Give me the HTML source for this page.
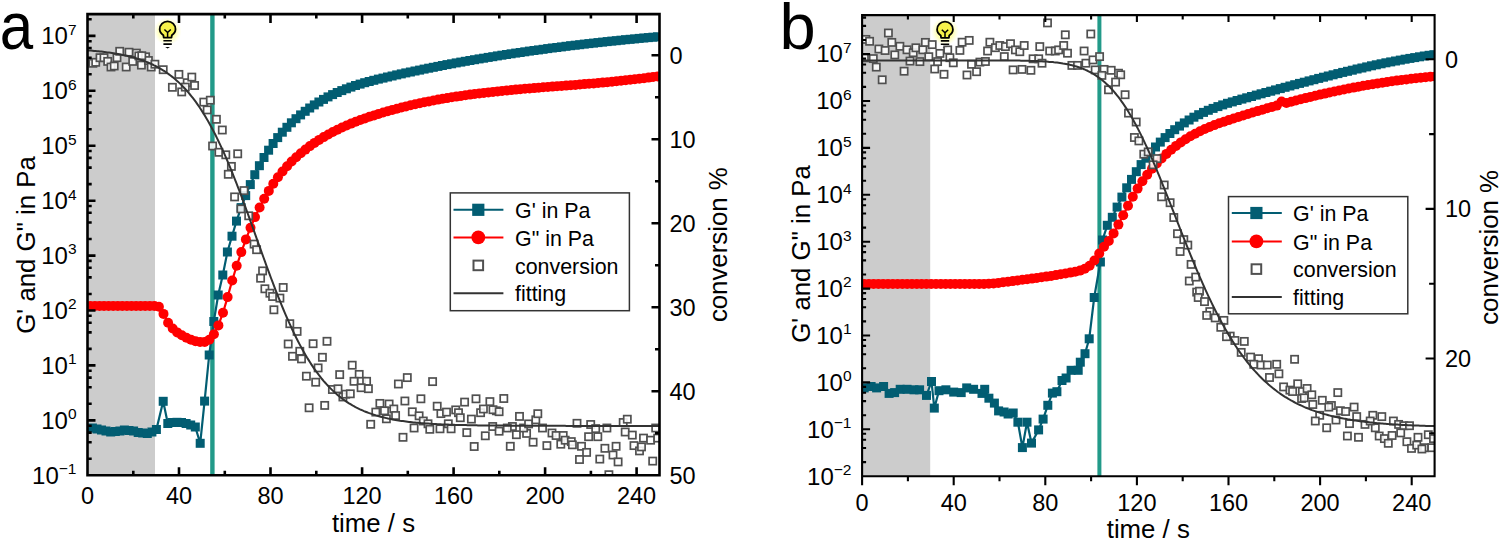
<!DOCTYPE html>
<html><head><meta charset="utf-8"><title>Rheology</title>
<style>html,body{margin:0;padding:0;background:#fff;overflow:hidden}svg{display:block}</style></head>
<body><svg width="1500" height="541" viewBox="0 0 1500 541" font-family="'Liberation Sans', sans-serif">
<defs>
<radialGradient id="glow"><stop offset="0" stop-color="#ffff40" stop-opacity="0.9"/><stop offset="0.55" stop-color="#ffff60" stop-opacity="0.55"/><stop offset="1" stop-color="#ffffa0" stop-opacity="0"/></radialGradient>
<clipPath id="clipA"><rect x="87.5" y="14.1" width="572" height="461.2"/></clipPath>
<clipPath id="clipB"><rect x="862.1" y="15.1" width="572.5" height="461.1"/></clipPath>
</defs>
<rect width="1500" height="541" fill="#fff"/>
<rect x="87.5" y="14.1" width="67.5" height="461.2" fill="#cccccc"/>
<circle cx="167.6" cy="31.3" r="14" fill="url(#glow)"/>
<path d="M163.7,37.6 L163.4,35.3 C161.1,33.8 159.7,31.3 159.7,29.3 A7.9,7.9 0 1 1 175.5,29.3 C175.5,31.3 174.1,33.8 171.8,35.3 L171.5,37.6 Z" fill="#f7f24a" stroke="#000" stroke-width="1.8" stroke-linejoin="round"/>
<path d="M164.4,29.5 L167.6,32.5 L170.8,29.5 M167.6,32.5 V37.6" fill="none" stroke="#000" stroke-width="1.5"/>
<path d="M163.4,40.7H171.8M163.4,44.1H171.8" stroke="#000" stroke-width="1.6"/>
<path d="M165.2,46.9H170L167.6,48.6Z" fill="#000"/>
<rect x="210.2" y="14.1" width="4.4" height="461.2" fill="#229a89"/>
<g clip-path="url(#clipA)">
<polyline fill="none" stroke="#025d72" stroke-width="2.2" stroke-linejoin="round" points="92.4,428 97,429 101.5,430 106,431 110.7,432 115.3,431.5 119.9,431 124.4,430 129,430.5 133.6,431 138.2,432.5 142.7,433 147.3,433.5 151.9,432 156.4,429.5 163.2,401.3 167.8,423.5 172.4,422.5 177,422.3 181.5,422.5 186.1,423.5 190.7,425 195.3,427 200.2,443.3 204.6,401.1 209.2,355 213.8,321.5 218.2,295 222.8,275 227.4,252 232,236.2 236.5,221.1 241.1,207.6 245.7,195.6 250.3,184.6 254.8,174.7 259.4,165.7 264,157.5 268.6,150.2 273.1,143.5 277.7,137.6 282.3,132.2 286.9,127.3 291.4,122.8 296,118.7 300.6,114.9 305.2,111.3 309.7,108 314.3,104.9 318.9,102 323.5,99.4 328,96.9 332.6,94.6 337.2,92.5 341.8,90.6 346.4,88.8 350.9,87.1 355.5,85.5 360.1,84.1 364.7,82.7 369.2,81.5 373.8,80.3 378.4,79.1 383,78.1 387.5,77 392.1,76 396.7,74.9 401.3,73.9 405.8,72.9 410.4,72 415,71 419.6,70.1 424.1,69.1 428.7,68.2 433.3,67.3 437.9,66.4 442.4,65.5 447,64.6 451.6,63.8 456.2,62.9 460.8,62.1 465.3,61.3 469.9,60.5 474.5,59.7 479.1,58.9 483.6,58.2 488.2,57.4 492.8,56.7 497.4,55.9 501.9,55.2 506.5,54.5 511.1,53.8 515.7,53.1 520.2,52.5 524.8,51.8 529.4,51.1 534,50.5 538.5,49.9 543.1,49.3 547.7,48.6 552.3,48 556.8,47.5 561.4,46.9 566,46.3 570.6,45.7 575.2,45.2 579.7,44.7 584.3,44.1 588.9,43.6 593.5,43.1 598,42.6 602.6,42.1 607.2,41.6 611.8,41.1 616.3,40.7 620.9,40.2 625.5,39.7 630.1,39.3 634.6,38.9 639.2,38.4 643.8,38 648.4,37.6 652.9,37.2 657.5,36.8"/>
<g fill="#025d72"><rect x="87.9" y="423.5" width="9" height="9"/><rect x="92.5" y="424.5" width="9" height="9"/><rect x="97" y="425.5" width="9" height="9"/><rect x="101.5" y="426.5" width="9" height="9"/><rect x="106.2" y="427.5" width="9" height="9"/><rect x="110.8" y="427" width="9" height="9"/><rect x="115.4" y="426.5" width="9" height="9"/><rect x="119.9" y="425.5" width="9" height="9"/><rect x="124.5" y="426" width="9" height="9"/><rect x="129.1" y="426.5" width="9" height="9"/><rect x="133.7" y="428" width="9" height="9"/><rect x="138.2" y="428.5" width="9" height="9"/><rect x="142.8" y="429" width="9" height="9"/><rect x="147.4" y="427.5" width="9" height="9"/><rect x="151.9" y="425" width="9" height="9"/><rect x="158.7" y="396.8" width="9" height="9"/><rect x="163.3" y="419" width="9" height="9"/><rect x="167.9" y="418" width="9" height="9"/><rect x="172.5" y="417.8" width="9" height="9"/><rect x="177" y="418" width="9" height="9"/><rect x="181.6" y="419" width="9" height="9"/><rect x="186.2" y="420.5" width="9" height="9"/><rect x="190.8" y="422.5" width="9" height="9"/><rect x="195.7" y="438.8" width="9" height="9"/><rect x="200.1" y="396.6" width="9" height="9"/><rect x="204.7" y="350.5" width="9" height="9"/><rect x="209.3" y="317" width="9" height="9"/><rect x="213.7" y="290.5" width="9" height="9"/><rect x="218.3" y="270.5" width="9" height="9"/><rect x="222.9" y="247.5" width="9" height="9"/><rect x="227.5" y="231.7" width="9" height="9"/><rect x="232" y="216.6" width="9" height="9"/><rect x="236.6" y="203.1" width="9" height="9"/><rect x="241.2" y="191.1" width="9" height="9"/><rect x="245.8" y="180.1" width="9" height="9"/><rect x="250.3" y="170.2" width="9" height="9"/><rect x="254.9" y="161.2" width="9" height="9"/><rect x="259.5" y="153" width="9" height="9"/><rect x="264.1" y="145.7" width="9" height="9"/><rect x="268.6" y="139" width="9" height="9"/><rect x="273.2" y="133.1" width="9" height="9"/><rect x="277.8" y="127.7" width="9" height="9"/><rect x="282.4" y="122.8" width="9" height="9"/><rect x="286.9" y="118.3" width="9" height="9"/><rect x="291.5" y="114.2" width="9" height="9"/><rect x="296.1" y="110.4" width="9" height="9"/><rect x="300.7" y="106.8" width="9" height="9"/><rect x="305.2" y="103.5" width="9" height="9"/><rect x="309.8" y="100.4" width="9" height="9"/><rect x="314.4" y="97.5" width="9" height="9"/><rect x="319" y="94.9" width="9" height="9"/><rect x="323.5" y="92.4" width="9" height="9"/><rect x="328.1" y="90.1" width="9" height="9"/><rect x="332.7" y="88" width="9" height="9"/><rect x="337.3" y="86.1" width="9" height="9"/><rect x="341.9" y="84.3" width="9" height="9"/><rect x="346.4" y="82.6" width="9" height="9"/><rect x="351" y="81" width="9" height="9"/><rect x="355.6" y="79.6" width="9" height="9"/><rect x="360.2" y="78.2" width="9" height="9"/><rect x="364.7" y="77" width="9" height="9"/><rect x="369.3" y="75.8" width="9" height="9"/><rect x="373.9" y="74.6" width="9" height="9"/><rect x="378.5" y="73.6" width="9" height="9"/><rect x="383" y="72.5" width="9" height="9"/><rect x="387.6" y="71.5" width="9" height="9"/><rect x="392.2" y="70.4" width="9" height="9"/><rect x="396.8" y="69.4" width="9" height="9"/><rect x="401.3" y="68.4" width="9" height="9"/><rect x="405.9" y="67.5" width="9" height="9"/><rect x="410.5" y="66.5" width="9" height="9"/><rect x="415.1" y="65.6" width="9" height="9"/><rect x="419.6" y="64.6" width="9" height="9"/><rect x="424.2" y="63.7" width="9" height="9"/><rect x="428.8" y="62.8" width="9" height="9"/><rect x="433.4" y="61.9" width="9" height="9"/><rect x="437.9" y="61" width="9" height="9"/><rect x="442.5" y="60.1" width="9" height="9"/><rect x="447.1" y="59.3" width="9" height="9"/><rect x="451.7" y="58.4" width="9" height="9"/><rect x="456.3" y="57.6" width="9" height="9"/><rect x="460.8" y="56.8" width="9" height="9"/><rect x="465.4" y="56" width="9" height="9"/><rect x="470" y="55.2" width="9" height="9"/><rect x="474.6" y="54.4" width="9" height="9"/><rect x="479.1" y="53.7" width="9" height="9"/><rect x="483.7" y="52.9" width="9" height="9"/><rect x="488.3" y="52.2" width="9" height="9"/><rect x="492.9" y="51.4" width="9" height="9"/><rect x="497.4" y="50.7" width="9" height="9"/><rect x="502" y="50" width="9" height="9"/><rect x="506.6" y="49.3" width="9" height="9"/><rect x="511.2" y="48.6" width="9" height="9"/><rect x="515.7" y="48" width="9" height="9"/><rect x="520.3" y="47.3" width="9" height="9"/><rect x="524.9" y="46.6" width="9" height="9"/><rect x="529.5" y="46" width="9" height="9"/><rect x="534" y="45.4" width="9" height="9"/><rect x="538.6" y="44.8" width="9" height="9"/><rect x="543.2" y="44.1" width="9" height="9"/><rect x="547.8" y="43.5" width="9" height="9"/><rect x="552.3" y="43" width="9" height="9"/><rect x="556.9" y="42.4" width="9" height="9"/><rect x="561.5" y="41.8" width="9" height="9"/><rect x="566.1" y="41.2" width="9" height="9"/><rect x="570.7" y="40.7" width="9" height="9"/><rect x="575.2" y="40.2" width="9" height="9"/><rect x="579.8" y="39.6" width="9" height="9"/><rect x="584.4" y="39.1" width="9" height="9"/><rect x="589" y="38.6" width="9" height="9"/><rect x="593.5" y="38.1" width="9" height="9"/><rect x="598.1" y="37.6" width="9" height="9"/><rect x="602.7" y="37.1" width="9" height="9"/><rect x="607.3" y="36.6" width="9" height="9"/><rect x="611.8" y="36.2" width="9" height="9"/><rect x="616.4" y="35.7" width="9" height="9"/><rect x="621" y="35.2" width="9" height="9"/><rect x="625.6" y="34.8" width="9" height="9"/><rect x="630.1" y="34.4" width="9" height="9"/><rect x="634.7" y="33.9" width="9" height="9"/><rect x="639.3" y="33.5" width="9" height="9"/><rect x="643.9" y="33.1" width="9" height="9"/><rect x="648.4" y="32.7" width="9" height="9"/><rect x="653" y="32.3" width="9" height="9"/></g>
<polyline fill="none" stroke="#ff0000" stroke-width="2.2" stroke-linejoin="round" points="90.3,306 94.9,306 99.5,306 104,306 108.6,306 113.2,306 117.8,306 122.3,306 126.9,306 131.5,306 136.1,306 140.6,306 145.2,306 149.8,306 154.4,306 158.9,306.8 163.5,313.9 168.1,322.8 172.7,328.5 177.2,332.4 181.8,335.3 186.4,337.7 191,339.7 195.5,341.2 200.1,342 204.7,342 209.3,339.7 213.9,334.2 218.4,325.4 223,312.7 227.6,297.1 232.2,280.5 236.7,265.8 241.3,252.1 245.9,239.4 250.5,227.7 255,217.1 259.6,207.5 264.2,198.8 268.8,190.9 273.3,183.7 277.9,177.3 282.5,171.5 287.1,166.2 291.6,161.5 296.2,157.2 300.8,153.2 305.4,149.6 309.9,146.1 314.5,142.9 319.1,139.9 323.7,137.1 328.3,134.5 332.8,132 337.4,129.7 342,127.5 346.6,125.5 351.1,123.6 355.7,121.7 360.3,120 364.9,118.4 369.4,116.8 374,115.4 378.6,113.9 383.2,112.5 387.7,111.2 392.3,109.9 396.9,108.7 401.5,107.5 406,106.4 410.6,105.3 415.2,104.3 419.8,103.2 424.3,102.3 428.9,101.4 433.5,100.5 438.1,99.6 442.7,98.8 447.2,98.1 451.8,97.3 456.4,96.6 461,95.9 465.5,95.3 470.1,94.6 474.7,94 479.3,93.5 483.8,92.9 488.4,92.4 493,91.9 497.6,91.4 502.1,90.9 506.7,90.5 511.3,90.1 515.9,89.6 520.4,89.2 525,88.8 529.6,88.4 534.2,88.1 538.7,87.7 543.3,87.3 547.9,87 552.5,86.6 557.1,86.3 561.6,85.9 566.2,85.6 570.8,85.2 575.4,84.9 579.9,84.5 584.5,84.1 589.1,83.8 593.7,83.4 598.2,83 602.8,82.6 607.4,82.2 612,81.7 616.5,81.3 621.1,80.8 625.7,80.3 630.3,79.8 634.8,79.3 639.4,78.8 644,78.2 648.6,77.6 653.1,77 657.7,76.4"/>
<g fill="#ff0000"><circle cx="90.3" cy="306" r="5"/><circle cx="94.9" cy="306" r="5"/><circle cx="99.5" cy="306" r="5"/><circle cx="104" cy="306" r="5"/><circle cx="108.6" cy="306" r="5"/><circle cx="113.2" cy="306" r="5"/><circle cx="117.8" cy="306" r="5"/><circle cx="122.3" cy="306" r="5"/><circle cx="126.9" cy="306" r="5"/><circle cx="131.5" cy="306" r="5"/><circle cx="136.1" cy="306" r="5"/><circle cx="140.6" cy="306" r="5"/><circle cx="145.2" cy="306" r="5"/><circle cx="149.8" cy="306" r="5"/><circle cx="154.4" cy="306" r="5"/><circle cx="158.9" cy="306.8" r="5"/><circle cx="163.5" cy="313.9" r="5"/><circle cx="168.1" cy="322.8" r="5"/><circle cx="172.7" cy="328.5" r="5"/><circle cx="177.2" cy="332.4" r="5"/><circle cx="181.8" cy="335.3" r="5"/><circle cx="186.4" cy="337.7" r="5"/><circle cx="191" cy="339.7" r="5"/><circle cx="195.5" cy="341.2" r="5"/><circle cx="200.1" cy="342" r="5"/><circle cx="204.7" cy="342" r="5"/><circle cx="209.3" cy="339.7" r="5"/><circle cx="213.9" cy="334.2" r="5"/><circle cx="218.4" cy="325.4" r="5"/><circle cx="223" cy="312.7" r="5"/><circle cx="227.6" cy="297.1" r="5"/><circle cx="232.2" cy="280.5" r="5"/><circle cx="236.7" cy="265.8" r="5"/><circle cx="241.3" cy="252.1" r="5"/><circle cx="245.9" cy="239.4" r="5"/><circle cx="250.5" cy="227.7" r="5"/><circle cx="255" cy="217.1" r="5"/><circle cx="259.6" cy="207.5" r="5"/><circle cx="264.2" cy="198.8" r="5"/><circle cx="268.8" cy="190.9" r="5"/><circle cx="273.3" cy="183.7" r="5"/><circle cx="277.9" cy="177.3" r="5"/><circle cx="282.5" cy="171.5" r="5"/><circle cx="287.1" cy="166.2" r="5"/><circle cx="291.6" cy="161.5" r="5"/><circle cx="296.2" cy="157.2" r="5"/><circle cx="300.8" cy="153.2" r="5"/><circle cx="305.4" cy="149.6" r="5"/><circle cx="309.9" cy="146.1" r="5"/><circle cx="314.5" cy="142.9" r="5"/><circle cx="319.1" cy="139.9" r="5"/><circle cx="323.7" cy="137.1" r="5"/><circle cx="328.3" cy="134.5" r="5"/><circle cx="332.8" cy="132" r="5"/><circle cx="337.4" cy="129.7" r="5"/><circle cx="342" cy="127.5" r="5"/><circle cx="346.6" cy="125.5" r="5"/><circle cx="351.1" cy="123.6" r="5"/><circle cx="355.7" cy="121.7" r="5"/><circle cx="360.3" cy="120" r="5"/><circle cx="364.9" cy="118.4" r="5"/><circle cx="369.4" cy="116.8" r="5"/><circle cx="374" cy="115.4" r="5"/><circle cx="378.6" cy="113.9" r="5"/><circle cx="383.2" cy="112.5" r="5"/><circle cx="387.7" cy="111.2" r="5"/><circle cx="392.3" cy="109.9" r="5"/><circle cx="396.9" cy="108.7" r="5"/><circle cx="401.5" cy="107.5" r="5"/><circle cx="406" cy="106.4" r="5"/><circle cx="410.6" cy="105.3" r="5"/><circle cx="415.2" cy="104.3" r="5"/><circle cx="419.8" cy="103.2" r="5"/><circle cx="424.3" cy="102.3" r="5"/><circle cx="428.9" cy="101.4" r="5"/><circle cx="433.5" cy="100.5" r="5"/><circle cx="438.1" cy="99.6" r="5"/><circle cx="442.7" cy="98.8" r="5"/><circle cx="447.2" cy="98.1" r="5"/><circle cx="451.8" cy="97.3" r="5"/><circle cx="456.4" cy="96.6" r="5"/><circle cx="461" cy="95.9" r="5"/><circle cx="465.5" cy="95.3" r="5"/><circle cx="470.1" cy="94.6" r="5"/><circle cx="474.7" cy="94" r="5"/><circle cx="479.3" cy="93.5" r="5"/><circle cx="483.8" cy="92.9" r="5"/><circle cx="488.4" cy="92.4" r="5"/><circle cx="493" cy="91.9" r="5"/><circle cx="497.6" cy="91.4" r="5"/><circle cx="502.1" cy="90.9" r="5"/><circle cx="506.7" cy="90.5" r="5"/><circle cx="511.3" cy="90.1" r="5"/><circle cx="515.9" cy="89.6" r="5"/><circle cx="520.4" cy="89.2" r="5"/><circle cx="525" cy="88.8" r="5"/><circle cx="529.6" cy="88.4" r="5"/><circle cx="534.2" cy="88.1" r="5"/><circle cx="538.7" cy="87.7" r="5"/><circle cx="543.3" cy="87.3" r="5"/><circle cx="547.9" cy="87" r="5"/><circle cx="552.5" cy="86.6" r="5"/><circle cx="557.1" cy="86.3" r="5"/><circle cx="561.6" cy="85.9" r="5"/><circle cx="566.2" cy="85.6" r="5"/><circle cx="570.8" cy="85.2" r="5"/><circle cx="575.4" cy="84.9" r="5"/><circle cx="579.9" cy="84.5" r="5"/><circle cx="584.5" cy="84.1" r="5"/><circle cx="589.1" cy="83.8" r="5"/><circle cx="593.7" cy="83.4" r="5"/><circle cx="598.2" cy="83" r="5"/><circle cx="602.8" cy="82.6" r="5"/><circle cx="607.4" cy="82.2" r="5"/><circle cx="612" cy="81.7" r="5"/><circle cx="616.5" cy="81.3" r="5"/><circle cx="621.1" cy="80.8" r="5"/><circle cx="625.7" cy="80.3" r="5"/><circle cx="630.3" cy="79.8" r="5"/><circle cx="634.8" cy="79.3" r="5"/><circle cx="639.4" cy="78.8" r="5"/><circle cx="644" cy="78.2" r="5"/><circle cx="648.6" cy="77.6" r="5"/><circle cx="653.1" cy="77" r="5"/><circle cx="657.7" cy="76.4" r="5"/></g>
<g fill="#ffffff" fill-opacity="0.88" stroke="#505050" stroke-width="1.7"><rect x="89.3" y="59.7" width="7.2" height="7.2"/><rect x="92.1" y="58.7" width="7.2" height="7.2"/><rect x="96.4" y="54.1" width="7.2" height="7.2"/><rect x="100.4" y="54.1" width="7.2" height="7.2"/><rect x="104.1" y="57.8" width="7.2" height="7.2"/><rect x="107.4" y="63.4" width="7.2" height="7.2"/><rect x="110.6" y="62.4" width="7.2" height="7.2"/><rect x="113.4" y="54.1" width="7.2" height="7.2"/><rect x="116.1" y="47.7" width="7.2" height="7.2"/><rect x="122.6" y="63.4" width="7.2" height="7.2"/><rect x="125.4" y="48.6" width="7.2" height="7.2"/><rect x="129.1" y="57.8" width="7.2" height="7.2"/><rect x="132.8" y="49.5" width="7.2" height="7.2"/><rect x="135.2" y="52.3" width="7.2" height="7.2"/><rect x="137.8" y="61.5" width="7.2" height="7.2"/><rect x="142" y="53.2" width="7.2" height="7.2"/><rect x="144.8" y="56.9" width="7.2" height="7.2"/><rect x="147.6" y="63.4" width="7.2" height="7.2"/><rect x="151.3" y="60.6" width="7.2" height="7.2"/><rect x="159.6" y="66.1" width="7.2" height="7.2"/><rect x="175.3" y="70.8" width="7.2" height="7.2"/><rect x="168.8" y="83.7" width="7.2" height="7.2"/><rect x="178.1" y="88.3" width="7.2" height="7.2"/><rect x="183.6" y="79.1" width="7.2" height="7.2"/><rect x="188.2" y="73.5" width="7.2" height="7.2"/><rect x="191" y="81.9" width="7.2" height="7.2"/><rect x="200.2" y="98.5" width="7.2" height="7.2"/><rect x="206.7" y="96.6" width="7.2" height="7.2"/><rect x="203.6" y="106.3" width="7.2" height="7.2"/><rect x="212.8" y="115.7" width="7.2" height="7.2"/><rect x="218.7" y="126.4" width="7.2" height="7.2"/><rect x="138.2" y="52.1" width="7.2" height="7.2"/><rect x="181.7" y="83.5" width="7.2" height="7.2"/><rect x="209" y="142.4" width="7.2" height="7.2"/><rect x="215.3" y="148.7" width="7.2" height="7.2"/><rect x="222.2" y="151.2" width="7.2" height="7.2"/><rect x="234.1" y="150.2" width="7.2" height="7.2"/><rect x="227.8" y="162.8" width="7.2" height="7.2"/><rect x="224.7" y="170.7" width="7.2" height="7.2"/><rect x="231" y="193.3" width="7.2" height="7.2"/><rect x="240.4" y="187" width="7.2" height="7.2"/><rect x="237.3" y="205.3" width="7.2" height="7.2"/><rect x="245.1" y="212.2" width="7.2" height="7.2"/><rect x="250.5" y="240.5" width="7.2" height="7.2"/><rect x="253" y="246.1" width="7.2" height="7.2"/><rect x="259" y="267.3" width="7.2" height="7.2"/><rect x="257" y="274.6" width="7.2" height="7.2"/><rect x="261.3" y="285.2" width="7.2" height="7.2"/><rect x="266.3" y="289.6" width="7.2" height="7.2"/><rect x="269" y="292.9" width="7.2" height="7.2"/><rect x="276.3" y="294.5" width="7.2" height="7.2"/><rect x="279.6" y="283.9" width="7.2" height="7.2"/><rect x="270.3" y="306.2" width="7.2" height="7.2"/><rect x="286.2" y="320.1" width="7.2" height="7.2"/><rect x="293.5" y="327.8" width="7.2" height="7.2"/><rect x="284.6" y="340.4" width="7.2" height="7.2"/><rect x="296.2" y="347.7" width="7.2" height="7.2"/><rect x="288.9" y="352.7" width="7.2" height="7.2"/><rect x="297.9" y="355.3" width="7.2" height="7.2"/><rect x="309.5" y="340.1" width="7.2" height="7.2"/><rect x="323.4" y="337.7" width="7.2" height="7.2"/><rect x="318.8" y="353.7" width="7.2" height="7.2"/><rect x="314.5" y="364.3" width="7.2" height="7.2"/><rect x="302.8" y="372.6" width="7.2" height="7.2"/><rect x="312.1" y="378.6" width="7.2" height="7.2"/><rect x="328.8" y="385.9" width="7.2" height="7.2"/><rect x="334.4" y="385.2" width="7.2" height="7.2"/><rect x="336.1" y="371" width="7.2" height="7.2"/><rect x="305.5" y="404.2" width="7.2" height="7.2"/><rect x="321.1" y="401.8" width="7.2" height="7.2"/><rect x="348.6" y="361.6" width="7.2" height="7.2"/><rect x="355.6" y="370.8" width="7.2" height="7.2"/><rect x="350.4" y="377.7" width="7.2" height="7.2"/><rect x="357.8" y="377.7" width="7.2" height="7.2"/><rect x="363" y="377.7" width="7.2" height="7.2"/><rect x="357.5" y="384.1" width="7.2" height="7.2"/><rect x="364.8" y="385.1" width="7.2" height="7.2"/><rect x="339.3" y="393.4" width="7.2" height="7.2"/><rect x="342.1" y="390.6" width="7.2" height="7.2"/><rect x="346.7" y="390.2" width="7.2" height="7.2"/><rect x="394.8" y="380.4" width="7.2" height="7.2"/><rect x="403.7" y="374" width="7.2" height="7.2"/><rect x="429" y="378" width="7.2" height="7.2"/><rect x="376.3" y="399.8" width="7.2" height="7.2"/><rect x="385.5" y="400.4" width="7.2" height="7.2"/><rect x="372.2" y="408.5" width="7.2" height="7.2"/><rect x="380.9" y="407.2" width="7.2" height="7.2"/><rect x="390.2" y="405.4" width="7.2" height="7.2"/><rect x="392" y="411.9" width="7.2" height="7.2"/><rect x="382.8" y="415.2" width="7.2" height="7.2"/><rect x="367.1" y="420.7" width="7.2" height="7.2"/><rect x="401.3" y="397.4" width="7.2" height="7.2"/><rect x="417.3" y="395.2" width="7.2" height="7.2"/><rect x="408.7" y="408.2" width="7.2" height="7.2"/><rect x="415.5" y="412.2" width="7.2" height="7.2"/><rect x="419.7" y="417.4" width="7.2" height="7.2"/><rect x="424.4" y="420.2" width="7.2" height="7.2"/><rect x="410.5" y="424.4" width="7.2" height="7.2"/><rect x="399.4" y="433.7" width="7.2" height="7.2"/><rect x="426.2" y="425.7" width="7.2" height="7.2"/><rect x="433.6" y="402.6" width="7.2" height="7.2"/><rect x="437.3" y="410" width="7.2" height="7.2"/><rect x="442.9" y="408.5" width="7.2" height="7.2"/><rect x="436.4" y="425.2" width="7.2" height="7.2"/><rect x="444.7" y="420.2" width="7.2" height="7.2"/><rect x="447.5" y="425.2" width="7.2" height="7.2"/><rect x="452.1" y="406.3" width="7.2" height="7.2"/><rect x="454.9" y="409.1" width="7.2" height="7.2"/><rect x="456.7" y="414.1" width="7.2" height="7.2"/><rect x="461" y="398.5" width="7.2" height="7.2"/><rect x="472.4" y="395.2" width="7.2" height="7.2"/><rect x="467.8" y="415.5" width="7.2" height="7.2"/><rect x="463.2" y="429" width="7.2" height="7.2"/><rect x="470.6" y="442.9" width="7.2" height="7.2"/><rect x="481.7" y="432.2" width="7.2" height="7.2"/><rect x="477" y="409.1" width="7.2" height="7.2"/><rect x="479.8" y="405.4" width="7.2" height="7.2"/><rect x="486.3" y="398" width="7.2" height="7.2"/><rect x="489.1" y="422.9" width="7.2" height="7.2"/><rect x="492.8" y="407.2" width="7.2" height="7.2"/><rect x="495.5" y="427.6" width="7.2" height="7.2"/><rect x="489.4" y="406.1" width="7.2" height="7.2"/><rect x="495.5" y="408.1" width="7.2" height="7.2"/><rect x="500.2" y="394.9" width="7.2" height="7.2"/><rect x="508.8" y="422.9" width="7.2" height="7.2"/><rect x="503.7" y="424.4" width="7.2" height="7.2"/><rect x="515.9" y="412.8" width="7.2" height="7.2"/><rect x="512.8" y="431.1" width="7.2" height="7.2"/><rect x="506.7" y="442.7" width="7.2" height="7.2"/><rect x="523" y="429.8" width="7.2" height="7.2"/><rect x="520" y="424.4" width="7.2" height="7.2"/><rect x="525" y="420.3" width="7.2" height="7.2"/><rect x="532.2" y="416.2" width="7.2" height="7.2"/><rect x="534.2" y="410.1" width="7.2" height="7.2"/><rect x="529.5" y="438.6" width="7.2" height="7.2"/><rect x="538.9" y="424.4" width="7.2" height="7.2"/><rect x="543.3" y="442" width="7.2" height="7.2"/><rect x="548.4" y="429.4" width="7.2" height="7.2"/><rect x="552.5" y="431.9" width="7.2" height="7.2"/><rect x="559.6" y="431.9" width="7.2" height="7.2"/><rect x="557.2" y="440.6" width="7.2" height="7.2"/><rect x="561.6" y="436.6" width="7.2" height="7.2"/><rect x="567.7" y="438" width="7.2" height="7.2"/><rect x="568.8" y="441.2" width="7.2" height="7.2"/><rect x="573.4" y="419.7" width="7.2" height="7.2"/><rect x="577.9" y="442.7" width="7.2" height="7.2"/><rect x="583" y="448.8" width="7.2" height="7.2"/><rect x="575.9" y="455.9" width="7.2" height="7.2"/><rect x="587.1" y="420.9" width="7.2" height="7.2"/><rect x="592.1" y="425" width="7.2" height="7.2"/><rect x="585" y="433.1" width="7.2" height="7.2"/><rect x="594.2" y="433.1" width="7.2" height="7.2"/><rect x="596.2" y="455.5" width="7.2" height="7.2"/><rect x="603.3" y="424.4" width="7.2" height="7.2"/><rect x="601.3" y="444.7" width="7.2" height="7.2"/><rect x="609.4" y="451.4" width="7.2" height="7.2"/><rect x="612.5" y="442.7" width="7.2" height="7.2"/><rect x="614.5" y="458.3" width="7.2" height="7.2"/><rect x="605.3" y="471.1" width="7.2" height="7.2"/><rect x="619.6" y="418.9" width="7.2" height="7.2"/><rect x="623.7" y="415.6" width="7.2" height="7.2"/><rect x="621.6" y="428.4" width="7.2" height="7.2"/><rect x="628.7" y="431.5" width="7.2" height="7.2"/><rect x="630.4" y="442" width="7.2" height="7.2"/><rect x="635.9" y="447.3" width="7.2" height="7.2"/><rect x="637.9" y="443.3" width="7.2" height="7.2"/><rect x="639.9" y="434.5" width="7.2" height="7.2"/><rect x="647" y="436.6" width="7.2" height="7.2"/><rect x="652.1" y="424.4" width="7.2" height="7.2"/><rect x="654.1" y="434.5" width="7.2" height="7.2"/><rect x="649.1" y="457.5" width="7.2" height="7.2"/></g>
<polyline fill="none" stroke="#333333" stroke-width="2" points="88,50.4 89.5,50.5 91,50.6 92.5,50.7 94,50.9 95.5,51 97,51.2 98.5,51.3 100,51.5 101.5,51.6 103,51.8 104.5,52 106,52.2 107.5,52.4 109,52.6 110.5,52.8 112,53 113.5,53.2 115,53.5 116.5,53.7 118,54 119.5,54.3 121,54.6 122.5,54.9 124,55.2 125.5,55.5 127,55.8 128.5,56.2 130,56.6 131.5,57 133,57.4 134.5,57.8 136,58.2 137.5,58.7 139,59.2 140.5,59.7 142,60.2 143.5,60.7 145,61.3 146.5,61.9 148,62.5 149.5,63.2 151,63.8 152.5,64.5 154,65.3 155.5,66 157,66.8 158.5,67.6 160,68.5 161.5,69.4 163,70.3 164.5,71.2 166,72.2 167.5,73.3 169,74.4 170.5,75.5 172,76.6 173.5,77.8 175,79.1 176.5,80.4 178,81.7 179.5,83.1 181,84.6 182.5,86.1 184,87.7 185.5,89.3 187,90.9 188.5,92.7 190,94.5 191.5,96.3 193,98.2 194.5,100.2 196,102.2 197.5,104.4 199,106.5 200.5,108.8 202,111.1 203.5,113.5 205,115.9 206.5,118.4 208,121 209.5,123.7 211,126.4 212.5,129.2 214,132.1 215.5,135 217,138.1 218.5,141.2 220,144.3 221.5,147.6 223,150.9 224.5,154.2 226,157.7 227.5,161.2 229,164.7 230.5,168.3 232,172 233.5,175.8 235,179.6 236.5,183.4 238,187.3 239.5,191.2 241,195.2 242.5,199.2 244,203.3 245.5,207.4 247,211.5 248.5,215.6 250,219.8 251.5,224 253,228.2 254.5,232.4 256,236.6 257.5,240.8 259,245 260.5,249.2 262,253.3 263.5,257.5 265,261.7 266.5,265.8 268,269.9 269.5,273.9 271,278 272.5,281.9 274,285.9 275.5,289.8 277,293.6 278.5,297.4 280,301.2 281.5,304.9 283,308.5 284.5,312.1 286,315.6 287.5,319 289,322.4 290.5,325.7 292,329 293.5,332.1 295,335.2 296.5,338.3 298,341.2 299.5,344.1 301,346.9 302.5,349.7 304,352.3 305.5,354.9 307,357.5 308.5,359.9 310,362.3 311.5,364.6 313,366.9 314.5,369.1 316,371.2 317.5,373.2 319,375.2 320.5,377.1 322,379 323.5,380.8 325,382.5 326.5,384.2 328,385.8 329.5,387.4 331,388.9 332.5,390.4 334,391.8 335.5,393.1 337,394.4 338.5,395.7 340,396.9 341.5,398.1 343,399.2 344.5,400.3 346,401.3 347.5,402.3 349,403.3 350.5,404.2 352,405.1 353.5,406 355,406.8 356.5,407.6 358,408.3 359.5,409.1 361,409.8 362.5,410.4 364,411.1 365.5,411.7 367,412.3 368.5,412.9 370,413.4 371.5,413.9 373,414.4 374.5,414.9 376,415.4 377.5,415.8 379,416.3 380.5,416.7 382,417.1 383.5,417.4 385,417.8 386.5,418.1 388,418.5 389.5,418.8 391,419.1 392.5,419.4 394,419.7 395.5,419.9 397,420.2 398.5,420.4 400,420.7 401.5,420.9 403,421.1 404.5,421.3 406,421.5 407.5,421.7 409,421.9 410.5,422 412,422.2 413.5,422.4 415,422.5 416.5,422.7 418,422.8 419.5,422.9 421,423.1 422.5,423.2 424,423.3 425.5,423.4 427,423.5 428.5,423.6 430,423.7 431.5,423.8 433,423.9 434.5,424 436,424.1 437.5,424.2 439,424.2 440.5,424.3 442,424.4 443.5,424.4 445,424.5 446.5,424.6 448,424.6 449.5,424.7 451,424.7 452.5,424.8 454,424.8 455.5,424.9 457,424.9 458.5,425 460,425 461.5,425 463,425.1 464.5,425.1 466,425.1 467.5,425.2 469,425.2 470.5,425.2 472,425.3 473.5,425.3 475,425.3 476.5,425.3 478,425.4 479.5,425.4 481,425.4 482.5,425.4 484,425.5 485.5,425.5 487,425.5 488.5,425.5 490,425.5 491.5,425.5 493,425.6 494.5,425.6 496,425.6 497.5,425.6 499,425.6 500.5,425.6 502,425.6 503.5,425.6 505,425.7 506.5,425.7 508,425.7 509.5,425.7 511,425.7 512.5,425.7 514,425.7 515.5,425.7 517,425.7 518.5,425.7 520,425.7 521.5,425.7 523,425.8 524.5,425.8 526,425.8 527.5,425.8 529,425.8 530.5,425.8 532,425.8 533.5,425.8 535,425.8 536.5,425.8 538,425.8 539.5,425.8 541,425.8 542.5,425.8 544,425.8 545.5,425.8 547,425.8 548.5,425.8 550,425.8 551.5,425.8 553,425.8 554.5,425.8 556,425.8 557.5,425.8 559,425.8 560.5,425.8 562,425.8 563.5,425.8 565,425.8 566.5,425.9 568,425.9 569.5,425.9 571,425.9 572.5,425.9 574,425.9 575.5,425.9 577,425.9 578.5,425.9 580,425.9 581.5,425.9 583,425.9 584.5,425.9 586,425.9 587.5,425.9 589,425.9 590.5,425.9 592,425.9 593.5,425.9 595,425.9 596.5,425.9 598,425.9 599.5,425.9 601,425.9 602.5,425.9 604,425.9 605.5,425.9 607,425.9 608.5,425.9 610,425.9 611.5,425.9 613,425.9 614.5,425.9 616,425.9 617.5,425.9 619,425.9 620.5,425.9 622,425.9 623.5,425.9 625,425.9 626.5,425.9 628,425.9 629.5,425.9 631,425.9 632.5,425.9 634,425.9 635.5,425.9 637,425.9 638.5,425.9 640,425.9 641.5,425.9 643,425.9 644.5,425.9 646,425.9 647.5,425.9 649,425.9 650.5,425.9 652,425.9 653.5,425.9 655,425.9 656.5,425.9 658,425.9 659.5,425.9"/>
</g>
<path d="M87.5,14.1H659.5V475.3H87.5ZM87.5,475.3v-8M87.5,14.1v9M133.3,475.3v-4.5M133.3,14.1v4.5M179,475.3v-8M179,14.1v9M224.8,475.3v-4.5M224.8,14.1v4.5M270.5,475.3v-8M270.5,14.1v9M316.3,475.3v-4.5M316.3,14.1v4.5M362.1,475.3v-8M362.1,14.1v9M407.8,475.3v-4.5M407.8,14.1v4.5M453.6,475.3v-8M453.6,14.1v9M499.3,475.3v-4.5M499.3,14.1v4.5M545.1,475.3v-8M545.1,14.1v9M590.9,475.3v-4.5M590.9,14.1v4.5M636.6,475.3v-8M636.6,14.1v9M87.5,475.3h8M87.5,458.8h4.2M87.5,442.2h4.2M87.5,432.6h4.2M87.5,425.7h4.2M87.5,420.4h8M87.5,403.8h4.2M87.5,387.3h4.2M87.5,377.6h4.2M87.5,370.8h4.2M87.5,365.4h8M87.5,348.9h4.2M87.5,332.4h4.2M87.5,322.7h4.2M87.5,315.8h4.2M87.5,310.5h8M87.5,294h4.2M87.5,277.4h4.2M87.5,267.8h4.2M87.5,260.9h4.2M87.5,255.6h8M87.5,239h4.2M87.5,222.5h4.2M87.5,212.8h4.2M87.5,206h4.2M87.5,200.7h8M87.5,184.1h4.2M87.5,167.6h4.2M87.5,157.9h4.2M87.5,151h4.2M87.5,145.7h8M87.5,129.2h4.2M87.5,112.6h4.2M87.5,103h4.2M87.5,96.1h4.2M87.5,90.8h8M87.5,74.3h4.2M87.5,57.7h4.2M87.5,48h4.2M87.5,41.2h4.2M87.5,35.9h8M87.5,19.3h4.2M659.5,55.3h-8M659.5,97.3h-4.5M659.5,139.3h-8M659.5,181.3h-4.5M659.5,223.3h-8M659.5,265.3h-4.5M659.5,307.3h-8M659.5,349.3h-4.5M659.5,391.3h-8M659.5,433.3h-4.5M659.5,475.3h-8" fill="none" stroke="#000" stroke-width="2.6" stroke-linecap="butt"/>
<text x="87.5" y="504.2" font-size="23.5" text-anchor="middle">0</text>
<text x="179" y="504.2" font-size="23.5" text-anchor="middle">40</text>
<text x="270.5" y="504.2" font-size="23.5" text-anchor="middle">80</text>
<text x="362.1" y="504.2" font-size="23.5" text-anchor="middle">120</text>
<text x="453.6" y="504.2" font-size="23.5" text-anchor="middle">160</text>
<text x="545.1" y="504.2" font-size="23.5" text-anchor="middle">200</text>
<text x="636.6" y="504.2" font-size="23.5" text-anchor="middle">240</text>
<text x="373.5" y="531.7" font-size="25.8" text-anchor="middle">time / s</text>
<text x="76.5" y="483.6" font-size="24" text-anchor="end">10<tspan font-size="15.5" dy="-9.5">−1</tspan></text>
<text x="76.5" y="428.7" font-size="24" text-anchor="end">10<tspan font-size="15.5" dy="-9.5">0</tspan></text>
<text x="76.5" y="373.7" font-size="24" text-anchor="end">10<tspan font-size="15.5" dy="-9.5">1</tspan></text>
<text x="76.5" y="318.8" font-size="24" text-anchor="end">10<tspan font-size="15.5" dy="-9.5">2</tspan></text>
<text x="76.5" y="263.9" font-size="24" text-anchor="end">10<tspan font-size="15.5" dy="-9.5">3</tspan></text>
<text x="76.5" y="209" font-size="24" text-anchor="end">10<tspan font-size="15.5" dy="-9.5">4</tspan></text>
<text x="76.5" y="154" font-size="24" text-anchor="end">10<tspan font-size="15.5" dy="-9.5">5</tspan></text>
<text x="76.5" y="99.1" font-size="24" text-anchor="end">10<tspan font-size="15.5" dy="-9.5">6</tspan></text>
<text x="76.5" y="44.2" font-size="24" text-anchor="end">10<tspan font-size="15.5" dy="-9.5">7</tspan></text>
<text x="669.5" y="63.6" font-size="23.5">0</text>
<text x="669.5" y="147.6" font-size="23.5">10</text>
<text x="669.5" y="231.6" font-size="23.5">20</text>
<text x="669.5" y="315.6" font-size="23.5">30</text>
<text x="669.5" y="399.6" font-size="23.5">40</text>
<text x="669.5" y="483.6" font-size="23.5">50</text>
<text transform="translate(34.8,245) rotate(-90)" font-size="25.8" text-anchor="middle">G' and G" in Pa</text>
<text transform="translate(726.5,244.7) rotate(-90)" font-size="25.8" text-anchor="middle">conversion %</text>
<text transform="translate(-0.3,49.4) scale(0.91,1)" font-size="66">a</text>
<rect x="450.3" y="192.9" width="179.1" height="117.8" fill="#fff" stroke="#333333" stroke-width="1.5"/>
<path d="M453.5,209.8H503.4" stroke="#025d72" stroke-width="2"/>
<rect x="472.2" y="203.7" width="12.2" height="12.2" fill="#025d72"/>
<path d="M453.5,237.4H503.4" stroke="#ff0000" stroke-width="2"/>
<circle cx="478.3" cy="237.4" r="6.9" fill="#ff0000"/>
<rect x="473.5" y="260.6" width="9.6" height="9.6" fill="#fff" stroke="#505050" stroke-width="2"/>
<path d="M453.5,293.3H503.4" stroke="#333333" stroke-width="2"/>
<text x="515" y="217.9" font-size="21.4">G' in Pa</text>
<text x="515" y="245.5" font-size="21.4">G" in Pa</text>
<text x="515" y="273.5" font-size="21.4">conversion</text>
<text x="515" y="301.4" font-size="21.4">fitting</text>
<rect x="862.1" y="15.1" width="68.1" height="461.1" fill="#cccccc"/>
<circle cx="945" cy="31.5" r="14" fill="url(#glow)"/>
<path d="M941.1,37.8 L940.8,35.5 C938.5,34 937.1,31.5 937.1,29.5 A7.9,7.9 0 1 1 952.9,29.5 C952.9,31.5 951.5,34 949.2,35.5 L948.9,37.8 Z" fill="#f7f24a" stroke="#000" stroke-width="1.8" stroke-linejoin="round"/>
<path d="M941.8,29.7 L945,32.7 L948.2,29.7 M945,32.7 V37.8" fill="none" stroke="#000" stroke-width="1.5"/>
<path d="M940.8,40.9H949.2M940.8,44.3H949.2" stroke="#000" stroke-width="1.6"/>
<path d="M942.6,47.1H947.4L945,48.8Z" fill="#000"/>
<rect x="1097.4" y="15.1" width="4" height="461.1" fill="#229a89"/>
<g clip-path="url(#clipB)">
<polyline fill="none" stroke="#025d72" stroke-width="2.2" stroke-linejoin="round" points="864.2,387.9 871.1,386.5 876.6,387.9 883.6,386.5 889.1,393.4 894.6,392.6 900.2,389.3 907.1,389.3 914,389.8 919.6,389.8 926.5,395.4 931.5,381.5 934.3,408.1 939,390.7 945.9,389.8 953.7,392.1 961.2,392.6 966.7,387.9 973.6,389.3 982,393.4 984.7,389.3 988.9,398.2 994.4,403.1 998.6,410.9 1004.1,412 1008.1,414 1013.2,413 1017.9,422.2 1022.4,447.6 1027,422.2 1031.5,443.1 1038.6,429.9 1043.1,419.1 1047.8,405.3 1052.4,393.1 1056.9,391.7 1062,380.5 1066.1,378 1071.1,370.3 1078.2,370.3 1080.3,362.2 1085,353.7 1089.2,338.8 1094.2,297.5 1100.4,262 1102.5,240 1107.3,225.3 1112.3,217.3 1117.1,207.1 1121.9,197.1 1126.7,187.8 1131.5,179.4 1136.3,171.7 1141.1,164.6 1145.9,158.2 1150.7,152.3 1155.5,147 1160.3,142.1 1165.1,137.6 1169.9,133.5 1174.7,129.7 1179.5,126.1 1184.3,122.9 1189.1,120 1193.9,117.2 1198.7,114.7 1203.5,112.4 1208.3,110.3 1213.1,108.4 1217.9,106.6 1222.7,104.9 1227.5,103.3 1232.3,101.9 1237.1,100.5 1241.9,99.1 1246.7,97.8 1251.5,96.5 1256.3,95.1 1261.1,93.8 1265.9,92.5 1270.7,91.2 1275.5,89.9 1280.3,88.6 1285.1,87.3 1289.9,86 1294.7,84.7 1299.5,83.4 1304.3,82.2 1309.1,80.9 1313.9,79.7 1318.7,78.4 1323.5,77.2 1328.3,76 1333.1,74.8 1337.9,73.6 1342.7,72.4 1347.5,71.3 1352.3,70.2 1357.1,69 1361.9,68 1366.7,66.9 1371.5,65.8 1376.3,64.8 1381.1,63.8 1385.9,62.8 1390.7,61.9 1395.5,61 1400.3,60.1 1405.1,59.2 1409.9,58.4 1414.7,57.6 1419.5,56.8 1424.3,56 1429.1,55.3 1433.9,54.7"/>
<g fill="#025d72"><rect x="859.7" y="383.4" width="9" height="9"/><rect x="866.6" y="382" width="9" height="9"/><rect x="872.1" y="383.4" width="9" height="9"/><rect x="879.1" y="382" width="9" height="9"/><rect x="884.6" y="388.9" width="9" height="9"/><rect x="890.1" y="388.1" width="9" height="9"/><rect x="895.7" y="384.8" width="9" height="9"/><rect x="902.6" y="384.8" width="9" height="9"/><rect x="909.5" y="385.3" width="9" height="9"/><rect x="915.1" y="385.3" width="9" height="9"/><rect x="922" y="390.9" width="9" height="9"/><rect x="927" y="377" width="9" height="9"/><rect x="929.8" y="403.6" width="9" height="9"/><rect x="934.5" y="386.2" width="9" height="9"/><rect x="941.4" y="385.3" width="9" height="9"/><rect x="949.2" y="387.6" width="9" height="9"/><rect x="956.7" y="388.1" width="9" height="9"/><rect x="962.2" y="383.4" width="9" height="9"/><rect x="969.1" y="384.8" width="9" height="9"/><rect x="977.5" y="388.9" width="9" height="9"/><rect x="980.2" y="384.8" width="9" height="9"/><rect x="984.4" y="393.7" width="9" height="9"/><rect x="989.9" y="398.6" width="9" height="9"/><rect x="994.1" y="406.4" width="9" height="9"/><rect x="999.6" y="407.5" width="9" height="9"/><rect x="1003.6" y="409.5" width="9" height="9"/><rect x="1008.7" y="408.5" width="9" height="9"/><rect x="1013.4" y="417.7" width="9" height="9"/><rect x="1017.9" y="443.1" width="9" height="9"/><rect x="1022.5" y="417.7" width="9" height="9"/><rect x="1027" y="438.6" width="9" height="9"/><rect x="1034.1" y="425.4" width="9" height="9"/><rect x="1038.6" y="414.6" width="9" height="9"/><rect x="1043.3" y="400.8" width="9" height="9"/><rect x="1047.9" y="388.6" width="9" height="9"/><rect x="1052.4" y="387.2" width="9" height="9"/><rect x="1057.5" y="376" width="9" height="9"/><rect x="1061.6" y="373.5" width="9" height="9"/><rect x="1066.6" y="365.8" width="9" height="9"/><rect x="1073.7" y="365.8" width="9" height="9"/><rect x="1075.8" y="357.7" width="9" height="9"/><rect x="1080.5" y="349.2" width="9" height="9"/><rect x="1084.7" y="334.3" width="9" height="9"/><rect x="1089.7" y="293" width="9" height="9"/><rect x="1095.9" y="257.5" width="9" height="9"/><rect x="1098" y="235.5" width="9" height="9"/><rect x="1102.8" y="220.8" width="9" height="9"/><rect x="1107.8" y="212.8" width="9" height="9"/><rect x="1112.6" y="202.6" width="9" height="9"/><rect x="1117.4" y="192.6" width="9" height="9"/><rect x="1122.2" y="183.3" width="9" height="9"/><rect x="1127" y="174.9" width="9" height="9"/><rect x="1131.8" y="167.2" width="9" height="9"/><rect x="1136.6" y="160.1" width="9" height="9"/><rect x="1141.4" y="153.7" width="9" height="9"/><rect x="1146.2" y="147.8" width="9" height="9"/><rect x="1151" y="142.5" width="9" height="9"/><rect x="1155.8" y="137.6" width="9" height="9"/><rect x="1160.6" y="133.1" width="9" height="9"/><rect x="1165.4" y="129" width="9" height="9"/><rect x="1170.2" y="125.2" width="9" height="9"/><rect x="1175" y="121.6" width="9" height="9"/><rect x="1179.8" y="118.4" width="9" height="9"/><rect x="1184.6" y="115.5" width="9" height="9"/><rect x="1189.4" y="112.7" width="9" height="9"/><rect x="1194.2" y="110.2" width="9" height="9"/><rect x="1199" y="107.9" width="9" height="9"/><rect x="1203.8" y="105.8" width="9" height="9"/><rect x="1208.6" y="103.9" width="9" height="9"/><rect x="1213.4" y="102.1" width="9" height="9"/><rect x="1218.2" y="100.4" width="9" height="9"/><rect x="1223" y="98.8" width="9" height="9"/><rect x="1227.8" y="97.4" width="9" height="9"/><rect x="1232.6" y="96" width="9" height="9"/><rect x="1237.4" y="94.6" width="9" height="9"/><rect x="1242.2" y="93.3" width="9" height="9"/><rect x="1247" y="92" width="9" height="9"/><rect x="1251.8" y="90.6" width="9" height="9"/><rect x="1256.6" y="89.3" width="9" height="9"/><rect x="1261.4" y="88" width="9" height="9"/><rect x="1266.2" y="86.7" width="9" height="9"/><rect x="1271" y="85.4" width="9" height="9"/><rect x="1275.8" y="84.1" width="9" height="9"/><rect x="1280.6" y="82.8" width="9" height="9"/><rect x="1285.4" y="81.5" width="9" height="9"/><rect x="1290.2" y="80.2" width="9" height="9"/><rect x="1295" y="78.9" width="9" height="9"/><rect x="1299.8" y="77.7" width="9" height="9"/><rect x="1304.6" y="76.4" width="9" height="9"/><rect x="1309.4" y="75.2" width="9" height="9"/><rect x="1314.2" y="73.9" width="9" height="9"/><rect x="1319" y="72.7" width="9" height="9"/><rect x="1323.8" y="71.5" width="9" height="9"/><rect x="1328.6" y="70.3" width="9" height="9"/><rect x="1333.4" y="69.1" width="9" height="9"/><rect x="1338.2" y="67.9" width="9" height="9"/><rect x="1343" y="66.8" width="9" height="9"/><rect x="1347.8" y="65.7" width="9" height="9"/><rect x="1352.6" y="64.5" width="9" height="9"/><rect x="1357.4" y="63.5" width="9" height="9"/><rect x="1362.2" y="62.4" width="9" height="9"/><rect x="1367" y="61.3" width="9" height="9"/><rect x="1371.8" y="60.3" width="9" height="9"/><rect x="1376.6" y="59.3" width="9" height="9"/><rect x="1381.4" y="58.3" width="9" height="9"/><rect x="1386.2" y="57.4" width="9" height="9"/><rect x="1391" y="56.5" width="9" height="9"/><rect x="1395.8" y="55.6" width="9" height="9"/><rect x="1400.6" y="54.7" width="9" height="9"/><rect x="1405.4" y="53.9" width="9" height="9"/><rect x="1410.2" y="53.1" width="9" height="9"/><rect x="1415" y="52.3" width="9" height="9"/><rect x="1419.8" y="51.5" width="9" height="9"/><rect x="1424.6" y="50.8" width="9" height="9"/><rect x="1429.4" y="50.2" width="9" height="9"/></g>
<polyline fill="none" stroke="#ff0000" stroke-width="2.2" stroke-linejoin="round" points="864,284 868.8,284 873.6,284 878.4,284 883.2,284 888,284 892.8,284 897.6,284 902.4,284 907.2,284 912,284 916.8,284 921.6,284 926.4,284 931.2,284 936,284 940.8,284 945.6,284 950.4,284 955.2,284 960,284 964.8,284 969.6,284 974.4,284 979.2,284 984,283.9 988.8,283.7 993.6,283.4 998.4,282.9 1003.2,282.3 1008,281.7 1012.8,281.1 1017.6,280.5 1022.4,279.8 1027.2,279.3 1032,278.6 1036.8,278 1041.6,277.3 1046.4,276.6 1051.2,275.9 1056,275.1 1060.8,274.3 1065.6,273.5 1070.4,272.6 1075.2,271.8 1080,270.6 1084.8,268.8 1089.6,265.8 1094.4,260.5 1099.2,253.5 1104,246.8 1108.8,241 1113.6,233.4 1118.4,224.6 1123.2,215.2 1128,205.7 1132.8,196.7 1137.6,188.6 1142.4,181.3 1147.2,174.7 1152,168.8 1156.8,163.4 1161.6,158.4 1166.4,153.9 1171.2,149.7 1176,145.9 1180.8,142.4 1185.6,139.2 1190.4,136.3 1195.2,133.7 1200,131.3 1204.8,129 1209.6,127 1214.4,125.1 1219.2,123.3 1224,121.7 1228.8,120.1 1233.6,118.5 1238.4,117 1243.2,115.5 1248,114 1252.8,112.5 1257.6,111.1 1262.4,109.7 1267.2,108.3 1272,106.9 1276.8,105.6 1281.6,101.5 1286.4,103 1291.2,101.7 1296,100.5 1300.8,99.3 1305.6,98.1 1310.4,96.9 1315.2,95.8 1320,94.6 1324.8,93.6 1329.6,92.5 1334.4,91.5 1339.2,90.5 1344,89.5 1348.8,88.5 1353.6,87.6 1358.4,86.7 1363.2,85.8 1368,85 1372.8,84.2 1377.6,83.4 1382.4,82.7 1387.2,81.9 1392,81.3 1396.8,80.6 1401.6,80 1406.4,79.4 1411.2,78.8 1416,78.2 1420.8,77.7 1425.6,77.2 1430.4,76.8 1435.2,76.4"/>
<g fill="#ff0000"><circle cx="864" cy="284" r="5"/><circle cx="868.8" cy="284" r="5"/><circle cx="873.6" cy="284" r="5"/><circle cx="878.4" cy="284" r="5"/><circle cx="883.2" cy="284" r="5"/><circle cx="888" cy="284" r="5"/><circle cx="892.8" cy="284" r="5"/><circle cx="897.6" cy="284" r="5"/><circle cx="902.4" cy="284" r="5"/><circle cx="907.2" cy="284" r="5"/><circle cx="912" cy="284" r="5"/><circle cx="916.8" cy="284" r="5"/><circle cx="921.6" cy="284" r="5"/><circle cx="926.4" cy="284" r="5"/><circle cx="931.2" cy="284" r="5"/><circle cx="936" cy="284" r="5"/><circle cx="940.8" cy="284" r="5"/><circle cx="945.6" cy="284" r="5"/><circle cx="950.4" cy="284" r="5"/><circle cx="955.2" cy="284" r="5"/><circle cx="960" cy="284" r="5"/><circle cx="964.8" cy="284" r="5"/><circle cx="969.6" cy="284" r="5"/><circle cx="974.4" cy="284" r="5"/><circle cx="979.2" cy="284" r="5"/><circle cx="984" cy="283.9" r="5"/><circle cx="988.8" cy="283.7" r="5"/><circle cx="993.6" cy="283.4" r="5"/><circle cx="998.4" cy="282.9" r="5"/><circle cx="1003.2" cy="282.3" r="5"/><circle cx="1008" cy="281.7" r="5"/><circle cx="1012.8" cy="281.1" r="5"/><circle cx="1017.6" cy="280.5" r="5"/><circle cx="1022.4" cy="279.8" r="5"/><circle cx="1027.2" cy="279.3" r="5"/><circle cx="1032" cy="278.6" r="5"/><circle cx="1036.8" cy="278" r="5"/><circle cx="1041.6" cy="277.3" r="5"/><circle cx="1046.4" cy="276.6" r="5"/><circle cx="1051.2" cy="275.9" r="5"/><circle cx="1056" cy="275.1" r="5"/><circle cx="1060.8" cy="274.3" r="5"/><circle cx="1065.6" cy="273.5" r="5"/><circle cx="1070.4" cy="272.6" r="5"/><circle cx="1075.2" cy="271.8" r="5"/><circle cx="1080" cy="270.6" r="5"/><circle cx="1084.8" cy="268.8" r="5"/><circle cx="1089.6" cy="265.8" r="5"/><circle cx="1094.4" cy="260.5" r="5"/><circle cx="1099.2" cy="253.5" r="5"/><circle cx="1104" cy="246.8" r="5"/><circle cx="1108.8" cy="241" r="5"/><circle cx="1113.6" cy="233.4" r="5"/><circle cx="1118.4" cy="224.6" r="5"/><circle cx="1123.2" cy="215.2" r="5"/><circle cx="1128" cy="205.7" r="5"/><circle cx="1132.8" cy="196.7" r="5"/><circle cx="1137.6" cy="188.6" r="5"/><circle cx="1142.4" cy="181.3" r="5"/><circle cx="1147.2" cy="174.7" r="5"/><circle cx="1152" cy="168.8" r="5"/><circle cx="1156.8" cy="163.4" r="5"/><circle cx="1161.6" cy="158.4" r="5"/><circle cx="1166.4" cy="153.9" r="5"/><circle cx="1171.2" cy="149.7" r="5"/><circle cx="1176" cy="145.9" r="5"/><circle cx="1180.8" cy="142.4" r="5"/><circle cx="1185.6" cy="139.2" r="5"/><circle cx="1190.4" cy="136.3" r="5"/><circle cx="1195.2" cy="133.7" r="5"/><circle cx="1200" cy="131.3" r="5"/><circle cx="1204.8" cy="129" r="5"/><circle cx="1209.6" cy="127" r="5"/><circle cx="1214.4" cy="125.1" r="5"/><circle cx="1219.2" cy="123.3" r="5"/><circle cx="1224" cy="121.7" r="5"/><circle cx="1228.8" cy="120.1" r="5"/><circle cx="1233.6" cy="118.5" r="5"/><circle cx="1238.4" cy="117" r="5"/><circle cx="1243.2" cy="115.5" r="5"/><circle cx="1248" cy="114" r="5"/><circle cx="1252.8" cy="112.5" r="5"/><circle cx="1257.6" cy="111.1" r="5"/><circle cx="1262.4" cy="109.7" r="5"/><circle cx="1267.2" cy="108.3" r="5"/><circle cx="1272" cy="106.9" r="5"/><circle cx="1276.8" cy="105.6" r="5"/><circle cx="1281.6" cy="101.5" r="5"/><circle cx="1286.4" cy="103" r="5"/><circle cx="1291.2" cy="101.7" r="5"/><circle cx="1296" cy="100.5" r="5"/><circle cx="1300.8" cy="99.3" r="5"/><circle cx="1305.6" cy="98.1" r="5"/><circle cx="1310.4" cy="96.9" r="5"/><circle cx="1315.2" cy="95.8" r="5"/><circle cx="1320" cy="94.6" r="5"/><circle cx="1324.8" cy="93.6" r="5"/><circle cx="1329.6" cy="92.5" r="5"/><circle cx="1334.4" cy="91.5" r="5"/><circle cx="1339.2" cy="90.5" r="5"/><circle cx="1344" cy="89.5" r="5"/><circle cx="1348.8" cy="88.5" r="5"/><circle cx="1353.6" cy="87.6" r="5"/><circle cx="1358.4" cy="86.7" r="5"/><circle cx="1363.2" cy="85.8" r="5"/><circle cx="1368" cy="85" r="5"/><circle cx="1372.8" cy="84.2" r="5"/><circle cx="1377.6" cy="83.4" r="5"/><circle cx="1382.4" cy="82.7" r="5"/><circle cx="1387.2" cy="81.9" r="5"/><circle cx="1392" cy="81.3" r="5"/><circle cx="1396.8" cy="80.6" r="5"/><circle cx="1401.6" cy="80" r="5"/><circle cx="1406.4" cy="79.4" r="5"/><circle cx="1411.2" cy="78.8" r="5"/><circle cx="1416" cy="78.2" r="5"/><circle cx="1420.8" cy="77.7" r="5"/><circle cx="1425.6" cy="77.2" r="5"/><circle cx="1430.4" cy="76.8" r="5"/><circle cx="1435.2" cy="76.4" r="5"/></g>
<g fill="#ffffff" fill-opacity="0.88" stroke="#505050" stroke-width="1.7"><rect x="862.3" y="35.8" width="7.2" height="7.2"/><rect x="866" y="37.7" width="7.2" height="7.2"/><rect x="860.8" y="54.3" width="7.2" height="7.2"/><rect x="869.7" y="55" width="7.2" height="7.2"/><rect x="872.7" y="63.5" width="7.2" height="7.2"/><rect x="878.6" y="76.2" width="7.2" height="7.2"/><rect x="875.3" y="45.4" width="7.2" height="7.2"/><rect x="881.5" y="46.9" width="7.2" height="7.2"/><rect x="884.8" y="29.4" width="7.2" height="7.2"/><rect x="888.2" y="38.8" width="7.2" height="7.2"/><rect x="891.2" y="51.3" width="7.2" height="7.2"/><rect x="896.3" y="42.7" width="7.2" height="7.2"/><rect x="900.5" y="67.6" width="7.2" height="7.2"/><rect x="903.4" y="46.2" width="7.2" height="7.2"/><rect x="906.4" y="57.5" width="7.2" height="7.2"/><rect x="909.6" y="49.1" width="7.2" height="7.2"/><rect x="912.3" y="44.2" width="7.2" height="7.2"/><rect x="916.3" y="58" width="7.2" height="7.2"/><rect x="919.2" y="46.2" width="7.2" height="7.2"/><rect x="921.8" y="38.8" width="7.2" height="7.2"/><rect x="925.2" y="53.1" width="7.2" height="7.2"/><rect x="928.6" y="41" width="7.2" height="7.2"/><rect x="931.1" y="65.4" width="7.2" height="7.2"/><rect x="934" y="58" width="7.2" height="7.2"/><rect x="936.3" y="49.8" width="7.2" height="7.2"/><rect x="940.4" y="70.7" width="7.2" height="7.2"/><rect x="944.1" y="46.3" width="7.2" height="7.2"/><rect x="946.3" y="54.1" width="7.2" height="7.2"/><rect x="949.7" y="59.2" width="7.2" height="7.2"/><rect x="956.3" y="46.8" width="7.2" height="7.2"/><rect x="958.5" y="38.6" width="7.2" height="7.2"/><rect x="965.6" y="36.8" width="7.2" height="7.2"/><rect x="967.9" y="60.7" width="7.2" height="7.2"/><rect x="963.4" y="71.4" width="7.2" height="7.2"/><rect x="973" y="68.1" width="7.2" height="7.2"/><rect x="976.3" y="58.5" width="7.2" height="7.2"/><rect x="981.8" y="57.9" width="7.2" height="7.2"/><rect x="984" y="47.4" width="7.2" height="7.2"/><rect x="986.3" y="38.6" width="7.2" height="7.2"/><rect x="991.8" y="44.1" width="7.2" height="7.2"/><rect x="996.2" y="41.9" width="7.2" height="7.2"/><rect x="1000.7" y="53" width="7.2" height="7.2"/><rect x="1001.8" y="43" width="7.2" height="7.2"/><rect x="1006.9" y="40.1" width="7.2" height="7.2"/><rect x="1011.8" y="46.3" width="7.2" height="7.2"/><rect x="1016.2" y="48.1" width="7.2" height="7.2"/><rect x="1020.6" y="41.9" width="7.2" height="7.2"/><rect x="1009.5" y="66.3" width="7.2" height="7.2"/><rect x="1018.4" y="65.8" width="7.2" height="7.2"/><rect x="1027.3" y="66.7" width="7.2" height="7.2"/><rect x="1029.5" y="55.2" width="7.2" height="7.2"/><rect x="1035.1" y="55.2" width="7.2" height="7.2"/><rect x="1038.4" y="59.6" width="7.2" height="7.2"/><rect x="1036.2" y="43" width="7.2" height="7.2"/><rect x="1043.9" y="19.3" width="7.2" height="7.2"/><rect x="1046.1" y="47.4" width="7.2" height="7.2"/><rect x="1051.7" y="47.4" width="7.2" height="7.2"/><rect x="1055" y="46.3" width="7.2" height="7.2"/><rect x="1060.1" y="41.9" width="7.2" height="7.2"/><rect x="1063.9" y="49.6" width="7.2" height="7.2"/><rect x="1061.7" y="31.2" width="7.2" height="7.2"/><rect x="1068.3" y="61.8" width="7.2" height="7.2"/><rect x="1073.9" y="61.8" width="7.2" height="7.2"/><rect x="1080.5" y="47.4" width="7.2" height="7.2"/><rect x="1082.3" y="59.6" width="7.2" height="7.2"/><rect x="1087.2" y="30.4" width="7.2" height="7.2"/><rect x="1089.4" y="56.3" width="7.2" height="7.2"/><rect x="1091.6" y="66.3" width="7.2" height="7.2"/><rect x="1096" y="53" width="7.2" height="7.2"/><rect x="1100.5" y="65.8" width="7.2" height="7.2"/><rect x="1098.3" y="71.8" width="7.2" height="7.2"/><rect x="1107.6" y="66.7" width="7.2" height="7.2"/><rect x="1114.9" y="69.6" width="7.2" height="7.2"/><rect x="1117.1" y="71.2" width="7.2" height="7.2"/><rect x="1112" y="78.5" width="7.2" height="7.2"/><rect x="1104.9" y="86.2" width="7.2" height="7.2"/><rect x="1121.5" y="91.1" width="7.2" height="7.2"/><rect x="1124.9" y="109.5" width="7.2" height="7.2"/><rect x="1132.6" y="118.4" width="7.2" height="7.2"/><rect x="1130.8" y="133.9" width="7.2" height="7.2"/><rect x="1135.3" y="137.3" width="7.2" height="7.2"/><rect x="1140.2" y="150.6" width="7.2" height="7.2"/><rect x="1144.6" y="148.3" width="7.2" height="7.2"/><rect x="1153.4" y="155" width="7.2" height="7.2"/><rect x="1149.5" y="161.2" width="7.2" height="7.2"/><rect x="1160.6" y="181.4" width="7.2" height="7.2"/><rect x="1158" y="193.2" width="7.2" height="7.2"/><rect x="1166.5" y="199.1" width="7.2" height="7.2"/><rect x="1170.2" y="213.9" width="7.2" height="7.2"/><rect x="1173.9" y="230.1" width="7.2" height="7.2"/><rect x="1180.2" y="236" width="7.2" height="7.2"/><rect x="1176.5" y="247.9" width="7.2" height="7.2"/><rect x="1187.5" y="260.8" width="7.2" height="7.2"/><rect x="1185.7" y="277.4" width="7.2" height="7.2"/><rect x="1193.1" y="288.5" width="7.2" height="7.2"/><rect x="1184.2" y="241.5" width="7.2" height="7.2"/><rect x="1192.1" y="273.5" width="7.2" height="7.2"/><rect x="1195.9" y="287.6" width="7.2" height="7.2"/><rect x="1194.6" y="293.9" width="7.2" height="7.2"/><rect x="1200.9" y="298" width="7.2" height="7.2"/><rect x="1206.2" y="308" width="7.2" height="7.2"/><rect x="1203.1" y="311.8" width="7.2" height="7.2"/><rect x="1211.6" y="314.3" width="7.2" height="7.2"/><rect x="1220.3" y="316.8" width="7.2" height="7.2"/><rect x="1217.2" y="323.7" width="7.2" height="7.2"/><rect x="1226.6" y="332.5" width="7.2" height="7.2"/><rect x="1222.9" y="333.1" width="7.2" height="7.2"/><rect x="1231.3" y="336.9" width="7.2" height="7.2"/><rect x="1240.7" y="337.8" width="7.2" height="7.2"/><rect x="1237.6" y="348.8" width="7.2" height="7.2"/><rect x="1247" y="353.5" width="7.2" height="7.2"/><rect x="1254.9" y="355.1" width="7.2" height="7.2"/><rect x="1250.2" y="360.7" width="7.2" height="7.2"/><rect x="1257.4" y="361.4" width="7.2" height="7.2"/><rect x="1263.7" y="361.4" width="7.2" height="7.2"/><rect x="1273.1" y="360.7" width="7.2" height="7.2"/><rect x="1291" y="355.7" width="7.2" height="7.2"/><rect x="1275.3" y="370.2" width="7.2" height="7.2"/><rect x="1265.9" y="373.9" width="7.2" height="7.2"/><rect x="1280" y="383.3" width="7.2" height="7.2"/><rect x="1286.3" y="386.5" width="7.2" height="7.2"/><rect x="1294.1" y="380.2" width="7.2" height="7.2"/><rect x="1298.8" y="388" width="7.2" height="7.2"/><rect x="1303.5" y="384.9" width="7.2" height="7.2"/><rect x="1308.2" y="391.2" width="7.2" height="7.2"/><rect x="1289" y="387.9" width="7.2" height="7.2"/><rect x="1298" y="394.9" width="7.2" height="7.2"/><rect x="1300.6" y="394.2" width="7.2" height="7.2"/><rect x="1309.2" y="400.9" width="7.2" height="7.2"/><rect x="1318.7" y="396.7" width="7.2" height="7.2"/><rect x="1327.8" y="401.9" width="7.2" height="7.2"/><rect x="1325.2" y="403.5" width="7.2" height="7.2"/><rect x="1334.2" y="389" width="7.2" height="7.2"/><rect x="1336.8" y="407.1" width="7.2" height="7.2"/><rect x="1342" y="407.9" width="7.2" height="7.2"/><rect x="1350.5" y="403.5" width="7.2" height="7.2"/><rect x="1353.1" y="413" width="7.2" height="7.2"/><rect x="1316.1" y="411.7" width="7.2" height="7.2"/><rect x="1311.7" y="417.4" width="7.2" height="7.2"/><rect x="1323.1" y="424.2" width="7.2" height="7.2"/><rect x="1332.4" y="416.4" width="7.2" height="7.2"/><rect x="1345.9" y="420" width="7.2" height="7.2"/><rect x="1343.8" y="432.4" width="7.2" height="7.2"/><rect x="1354.9" y="433.7" width="7.2" height="7.2"/><rect x="1361.4" y="420.8" width="7.2" height="7.2"/><rect x="1369.2" y="411.7" width="7.2" height="7.2"/><rect x="1378.2" y="413" width="7.2" height="7.2"/><rect x="1371.7" y="424.2" width="7.2" height="7.2"/><rect x="1366.6" y="417.4" width="7.2" height="7.2"/><rect x="1375.6" y="432.4" width="7.2" height="7.2"/><rect x="1380.8" y="435" width="7.2" height="7.2"/><rect x="1384.7" y="439.7" width="7.2" height="7.2"/><rect x="1388.5" y="431.9" width="7.2" height="7.2"/><rect x="1389.8" y="417.4" width="7.2" height="7.2"/><rect x="1395" y="420.8" width="7.2" height="7.2"/><rect x="1400.2" y="422.1" width="7.2" height="7.2"/><rect x="1405.9" y="422.1" width="7.2" height="7.2"/><rect x="1397.1" y="429.3" width="7.2" height="7.2"/><rect x="1403.3" y="438.1" width="7.2" height="7.2"/><rect x="1407.9" y="444.8" width="7.2" height="7.2"/><rect x="1414.4" y="433.7" width="7.2" height="7.2"/><rect x="1413.1" y="441.5" width="7.2" height="7.2"/><rect x="1420.9" y="444.1" width="7.2" height="7.2"/><rect x="1418.3" y="445.4" width="7.2" height="7.2"/><rect x="1424.7" y="431.1" width="7.2" height="7.2"/><rect x="1428.1" y="444.1" width="7.2" height="7.2"/><rect x="1429.9" y="435" width="7.2" height="7.2"/></g>
<polyline fill="none" stroke="#333333" stroke-width="2" points="862,60.4 863.5,60.4 865,60.4 866.5,60.4 868,60.4 869.5,60.4 871,60.4 872.5,60.4 874,60.4 875.5,60.4 877,60.4 878.5,60.4 880,60.4 881.5,60.4 883,60.4 884.5,60.4 886,60.4 887.5,60.4 889,60.4 890.5,60.4 892,60.4 893.5,60.4 895,60.4 896.5,60.4 898,60.4 899.5,60.4 901,60.4 902.5,60.4 904,60.4 905.5,60.4 907,60.4 908.5,60.4 910,60.4 911.5,60.4 913,60.4 914.5,60.4 916,60.4 917.5,60.4 919,60.4 920.5,60.4 922,60.4 923.5,60.4 925,60.4 926.5,60.4 928,60.4 929.5,60.4 931,60.4 932.5,60.4 934,60.4 935.5,60.4 937,60.4 938.5,60.4 940,60.4 941.5,60.4 943,60.4 944.5,60.4 946,60.4 947.5,60.4 949,60.4 950.5,60.4 952,60.4 953.5,60.4 955,60.4 956.5,60.4 958,60.4 959.5,60.4 961,60.4 962.5,60.4 964,60.4 965.5,60.4 967,60.4 968.5,60.4 970,60.4 971.5,60.4 973,60.4 974.5,60.4 976,60.4 977.5,60.4 979,60.4 980.5,60.4 982,60.4 983.5,60.4 985,60.4 986.5,60.4 988,60.4 989.5,60.4 991,60.4 992.5,60.4 994,60.4 995.5,60.4 997,60.4 998.5,60.4 1000,60.4 1001.5,60.5 1003,60.5 1004.5,60.5 1006,60.5 1007.5,60.5 1009,60.5 1010.5,60.5 1012,60.5 1013.5,60.5 1015,60.6 1016.5,60.6 1018,60.6 1019.5,60.6 1021,60.7 1022.5,60.7 1024,60.7 1025.5,60.7 1027,60.8 1028.5,60.8 1030,60.9 1031.5,60.9 1033,61 1034.5,61 1036,61.1 1037.5,61.1 1039,61.2 1040.5,61.3 1042,61.3 1043.5,61.4 1045,61.5 1046.5,61.6 1048,61.7 1049.5,61.9 1051,62 1052.5,62.1 1054,62.3 1055.5,62.4 1057,62.6 1058.5,62.8 1060,63 1061.5,63.2 1063,63.5 1064.5,63.7 1066,64 1067.5,64.3 1069,64.6 1070.5,64.9 1072,65.3 1073.5,65.7 1075,66.1 1076.5,66.5 1078,67 1079.5,67.5 1081,68 1082.5,68.6 1084,69.2 1085.5,69.9 1087,70.5 1088.5,71.3 1090,72 1091.5,72.8 1093,73.7 1094.5,74.6 1096,75.6 1097.5,76.6 1099,77.7 1100.5,78.8 1102,80 1103.5,81.2 1105,82.5 1106.5,83.9 1108,85.3 1109.5,86.8 1111,88.4 1112.5,90 1114,91.7 1115.5,93.5 1117,95.3 1118.5,97.2 1120,99.2 1121.5,101.3 1123,103.4 1124.5,105.6 1126,107.9 1127.5,110.3 1129,112.7 1130.5,115.2 1132,117.8 1133.5,120.5 1135,123.2 1136.5,126 1138,128.9 1139.5,131.9 1141,134.9 1142.5,137.9 1144,141.1 1145.5,144.3 1147,147.5 1148.5,150.9 1150,154.2 1151.5,157.6 1153,161.1 1154.5,164.6 1156,168.2 1157.5,171.8 1159,175.4 1160.5,179.1 1162,182.8 1163.5,186.6 1165,190.3 1166.5,194.1 1168,197.9 1169.5,201.7 1171,205.5 1172.5,209.3 1174,213.2 1175.5,217 1177,220.9 1178.5,224.7 1180,228.5 1181.5,232.3 1183,236.1 1184.5,239.9 1186,243.7 1187.5,247.4 1189,251.1 1190.5,254.8 1192,258.5 1193.5,262.1 1195,265.7 1196.5,269.3 1198,272.8 1199.5,276.3 1201,279.7 1202.5,283.1 1204,286.5 1205.5,289.8 1207,293.1 1208.5,296.3 1210,299.5 1211.5,302.6 1213,305.7 1214.5,308.7 1216,311.7 1217.5,314.6 1219,317.5 1220.5,320.3 1222,323.1 1223.5,325.8 1225,328.5 1226.5,331.1 1228,333.7 1229.5,336.2 1231,338.6 1232.5,341.1 1234,343.4 1235.5,345.7 1237,348 1238.5,350.2 1240,352.3 1241.5,354.4 1243,356.5 1244.5,358.5 1246,360.4 1247.5,362.3 1249,364.2 1250.5,366 1252,367.8 1253.5,369.5 1255,371.2 1256.5,372.8 1258,374.4 1259.5,376 1261,377.5 1262.5,379 1264,380.4 1265.5,381.8 1267,383.1 1268.5,384.5 1270,385.8 1271.5,387 1273,388.2 1274.5,389.4 1276,390.5 1277.5,391.7 1279,392.8 1280.5,393.8 1282,394.8 1283.5,395.8 1285,396.8 1286.5,397.7 1288,398.6 1289.5,399.5 1291,400.4 1292.5,401.2 1294,402 1295.5,402.8 1297,403.6 1298.5,404.3 1300,405 1301.5,405.7 1303,406.4 1304.5,407.1 1306,407.7 1307.5,408.3 1309,408.9 1310.5,409.5 1312,410.1 1313.5,410.6 1315,411.1 1316.5,411.6 1318,412.1 1319.5,412.6 1321,413.1 1322.5,413.5 1324,414 1325.5,414.4 1327,414.8 1328.5,415.2 1330,415.6 1331.5,416 1333,416.3 1334.5,416.7 1336,417 1337.5,417.3 1339,417.7 1340.5,418 1342,418.3 1343.5,418.6 1345,418.8 1346.5,419.1 1348,419.4 1349.5,419.6 1351,419.9 1352.5,420.1 1354,420.4 1355.5,420.6 1357,420.8 1358.5,421 1360,421.2 1361.5,421.4 1363,421.6 1364.5,421.8 1366,422 1367.5,422.1 1369,422.3 1370.5,422.5 1372,422.6 1373.5,422.8 1375,422.9 1376.5,423.1 1378,423.2 1379.5,423.3 1381,423.5 1382.5,423.6 1384,423.7 1385.5,423.8 1387,423.9 1388.5,424.1 1390,424.2 1391.5,424.3 1393,424.4 1394.5,424.5 1396,424.6 1397.5,424.6 1399,424.7 1400.5,424.8 1402,424.9 1403.5,425 1405,425.1 1406.5,425.1 1408,425.2 1409.5,425.3 1411,425.3 1412.5,425.4 1414,425.5 1415.5,425.5 1417,425.6 1418.5,425.6 1420,425.7 1421.5,425.7 1423,425.8 1424.5,425.8 1426,425.9 1427.5,425.9 1429,426 1430.5,426 1432,426.1 1433.5,426.1 1435,426.2"/>
</g>
<path d="M862.1,15.1H1434.6V476.2H862.1ZM862.1,476.2v9M862.1,15.1v7M907.9,476.2v5M907.9,15.1v4.5M953.7,476.2v9M953.7,15.1v7M999.5,476.2v5M999.5,15.1v4.5M1045.3,476.2v9M1045.3,15.1v7M1091.1,476.2v5M1091.1,15.1v4.5M1136.9,476.2v9M1136.9,15.1v7M1182.7,476.2v5M1182.7,15.1v4.5M1228.5,476.2v9M1228.5,15.1v7M1274.3,476.2v5M1274.3,15.1v4.5M1320.1,476.2v9M1320.1,15.1v7M1365.9,476.2v5M1365.9,15.1v4.5M1411.7,476.2v9M1411.7,15.1v7M862.1,476.2h8M862.1,462.1h4M862.1,448h4M862.1,439.7h4M862.1,433.8h4M862.1,429.3h8M862.1,415.2h4M862.1,401.1h4M862.1,392.8h4M862.1,386.9h4M862.1,382.4h8M862.1,368.3h4M862.1,354.2h4M862.1,345.9h4M862.1,340h4M862.1,335.5h8M862.1,321.4h4M862.1,307.3h4M862.1,299h4M862.1,293.1h4M862.1,288.6h8M862.1,274.5h4M862.1,260.4h4M862.1,252.1h4M862.1,246.2h4M862.1,241.7h8M862.1,227.6h4M862.1,213.5h4M862.1,205.2h4M862.1,199.3h4M862.1,194.8h8M862.1,180.7h4M862.1,166.6h4M862.1,158.3h4M862.1,152.4h4M862.1,147.9h8M862.1,133.8h4M862.1,119.7h4M862.1,111.4h4M862.1,105.5h4M862.1,101h8M862.1,86.9h4M862.1,72.8h4M862.1,64.5h4M862.1,58.6h4M862.1,54.1h8M862.1,40h4M862.1,25.9h4M862.1,17.6h4M1434.6,59.3h-9M1434.6,134.1h-5.5M1434.6,208.9h-9M1434.6,283.7h-5.5M1434.6,358.5h-9M1434.6,433.3h-5.5" fill="none" stroke="#000" stroke-width="2.1" stroke-linecap="butt"/>
<text x="862.1" y="511" font-size="23.5" text-anchor="middle">0</text>
<text x="953.7" y="511" font-size="23.5" text-anchor="middle">40</text>
<text x="1045.3" y="511" font-size="23.5" text-anchor="middle">80</text>
<text x="1136.9" y="511" font-size="23.5" text-anchor="middle">120</text>
<text x="1228.5" y="511" font-size="23.5" text-anchor="middle">160</text>
<text x="1320.1" y="511" font-size="23.5" text-anchor="middle">200</text>
<text x="1411.7" y="511" font-size="23.5" text-anchor="middle">240</text>
<text x="1148.3" y="538.2" font-size="25.8" text-anchor="middle">time / s</text>
<text x="851.5" y="484.5" font-size="24" text-anchor="end">10<tspan font-size="15.5" dy="-9.5">−2</tspan></text>
<text x="851.5" y="437.6" font-size="24" text-anchor="end">10<tspan font-size="15.5" dy="-9.5">−1</tspan></text>
<text x="851.5" y="390.7" font-size="24" text-anchor="end">10<tspan font-size="15.5" dy="-9.5">0</tspan></text>
<text x="851.5" y="343.8" font-size="24" text-anchor="end">10<tspan font-size="15.5" dy="-9.5">1</tspan></text>
<text x="851.5" y="296.9" font-size="24" text-anchor="end">10<tspan font-size="15.5" dy="-9.5">2</tspan></text>
<text x="851.5" y="250" font-size="24" text-anchor="end">10<tspan font-size="15.5" dy="-9.5">3</tspan></text>
<text x="851.5" y="203.1" font-size="24" text-anchor="end">10<tspan font-size="15.5" dy="-9.5">4</tspan></text>
<text x="851.5" y="156.2" font-size="24" text-anchor="end">10<tspan font-size="15.5" dy="-9.5">5</tspan></text>
<text x="851.5" y="109.3" font-size="24" text-anchor="end">10<tspan font-size="15.5" dy="-9.5">6</tspan></text>
<text x="851.5" y="62.4" font-size="24" text-anchor="end">10<tspan font-size="15.5" dy="-9.5">7</tspan></text>
<text x="1445" y="67.6" font-size="23.5">0</text>
<text x="1445" y="217.2" font-size="23.5">10</text>
<text x="1445" y="366.8" font-size="23.5">20</text>
<text transform="translate(809.5,254) rotate(-90)" font-size="25.8" text-anchor="middle">G' and G" in Pa</text>
<text transform="translate(1498,247.4) rotate(-90)" font-size="25.8" text-anchor="middle">conversion %</text>
<text transform="translate(779.6,49.2) scale(1,1)" font-size="65">b</text>
<rect x="1228.5" y="196.6" width="179.3" height="117.2" fill="#fff" stroke="#333333" stroke-width="1.5"/>
<path d="M1231.8,213H1281.8" stroke="#025d72" stroke-width="2"/>
<rect x="1250.3" y="206.9" width="12.2" height="12.2" fill="#025d72"/>
<path d="M1231.8,241.4H1281.8" stroke="#ff0000" stroke-width="2"/>
<circle cx="1256.4" cy="241.4" r="6.9" fill="#ff0000"/>
<rect x="1251.6" y="264.3" width="9.6" height="9.6" fill="#fff" stroke="#505050" stroke-width="2"/>
<path d="M1231.8,297H1281.8" stroke="#333333" stroke-width="2"/>
<text x="1293.1" y="221.1" font-size="21.4">G' in Pa</text>
<text x="1293.1" y="249.5" font-size="21.4">G" in Pa</text>
<text x="1293.1" y="277.2" font-size="21.4">conversion</text>
<text x="1293.1" y="305.1" font-size="21.4">fitting</text>
</svg></body></html>
